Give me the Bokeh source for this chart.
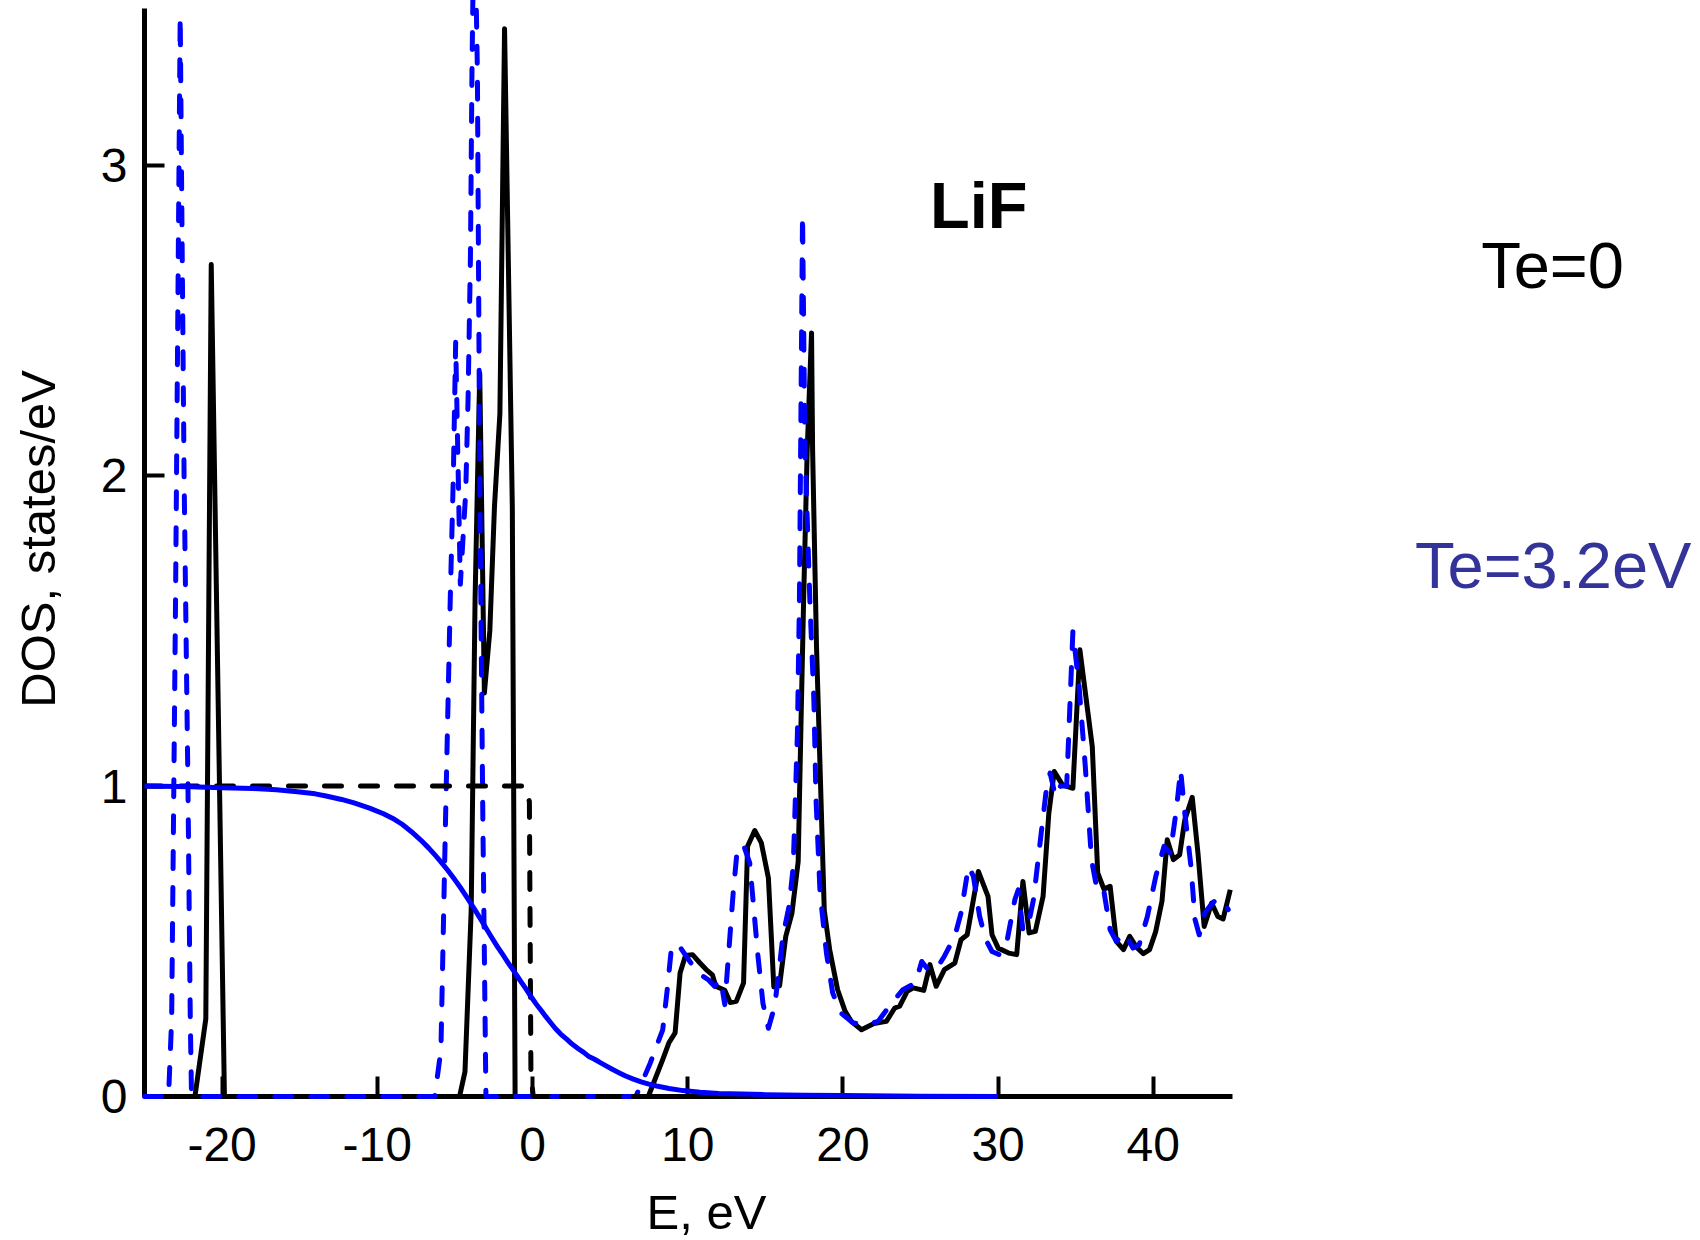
from bokeh.plotting import figure
from bokeh.models import Range1d, FixedTicker, Label, Title
from bokeh.embed import file_html
from bokeh.resources import INLINE

# ---------------- data ----------------
# DOS at Te = 0 (black solid)
e_dos0 = [-25, -21.75, -21.05, -20.7, -19.85, -4.7, -4.35, -3.95, -3.7, -3.4, -3.1, -2.75,
          -2.45, -2.1, -1.8, -1.3, -1.12, 7.46, 8.39, 8.79, 9.19, 9.51, 9.86, 10.31, 10.79,
          11.19, 11.59, 11.81, 12.39, 12.74, 13.14, 13.6, 13.86, 14.32, 14.74, 15.2, 15.55,
          15.92, 16.32, 16.72, 17.12, 17.3, 17.47, 17.7, 17.98, 18.05, 18.3, 18.8, 19.15,
          19.66, 20.14, 20.54, 21.2, 22.0, 22.8, 23.34, 23.66, 24.14, 24.54, 25.21, 25.61,
          26.01, 26.54, 27.21, 27.61, 28.01, 28.73, 29.35, 29.61, 30.01, 30.68, 31.2, 31.6,
          32.0, 32.4, 32.9, 33.27, 33.62, 34.15, 34.82, 35.27, 36.07, 36.42, 36.82, 37.22,
          37.62, 38.08, 38.48, 38.9, 39.36, 39.76, 40.16, 40.56, 40.9, 41.3, 41.7, 42.03,
          42.51, 42.88, 43.28, 43.76, 44.16, 44.5, 44.96]
dos0 = [0, 0, 0.25, 2.68, 0, 0, 0.08, 0.6, 1.6, 2.33, 1.30, 1.50,
        1.9, 2.2, 3.44, 1.9, 0, 0, 0.119, 0.173, 0.205, 0.398, 0.454, 0.457, 0.43,
        0.409, 0.392, 0.355, 0.342, 0.303, 0.307, 0.366, 0.806, 0.857, 0.818, 0.704, 0.353,
        0.357, 0.516, 0.591, 0.757, 1.2, 1.6, 2.08, 2.46, 2.08, 1.45, 0.6, 0.473,
        0.344, 0.275, 0.242, 0.215, 0.235, 0.242, 0.285, 0.291, 0.339, 0.35, 0.342, 0.425,
        0.355, 0.409, 0.43, 0.505, 0.521, 0.725, 0.645, 0.521, 0.478, 0.462, 0.457, 0.693,
        0.527, 0.532, 0.645, 0.913, 1.047, 1.004, 0.993, 1.439, 1.127, 0.72, 0.668, 0.677,
        0.5, 0.473, 0.516, 0.482, 0.46, 0.473, 0.532, 0.629, 0.827, 0.763, 0.779, 0.891,
        0.964, 0.784, 0.548, 0.623, 0.58, 0.572, 0.666]

# DOS at Te = 3.2 eV (blue dashed)
e_dos32 = [-25, -23.45, -23.25, -23.0, -22.7, -22.45, -22.2, -22.05, -21.97, -6.3, -5.9, -5.6,
           -5.3, -5.1, -4.95, -4.65, -4.3, -4.15, -4.0, -3.9, -3.75, -3.55, -3.4, -3.2, -3.0,
           6.66, 7.59, 8.39, 8.66, 8.92, 9.33, 9.99, 10.66, 11.33, 11.73, 12.13, 12.39, 12.93,
           13.2, 13.6, 14.0, 14.32, 14.53, 14.85, 15.2, 15.6, 15.92, 16.13, 16.53, 16.8, 17.07,
           17.2, 17.4, 17.55, 17.87, 18.13, 18.27, 18.53, 18.94, 19.34, 19.87, 20.67, 21.6,
           22.27, 23.07, 23.87, 24.68, 25.08, 25.48, 26.01, 26.54, 27.21, 27.61, 28.09, 28.41,
           28.81, 29.21, 29.61, 30.07, 30.55, 31.08, 31.3, 31.6, 31.88, 32.28, 32.68, 33.08,
           33.35, 33.7, 34.02, 34.42, 34.82, 35.22, 35.62, 36.02, 36.42, 36.82, 37.22, 37.62,
           38.16, 38.69, 39.09, 39.62, 40.16, 40.69, 41.09, 41.49, 41.76, 42.03, 42.43, 42.69,
           42.96, 43.31, 43.63, 44.03, 44.43, 44.83]
dos32 = [0, 0, 0.25, 1.6, 3.48, 2.0, 1.0, 0.25, 0, 0, 0.15, 0.9,
         1.6, 2.0, 2.43, 1.65, 1.95, 2.25, 2.7, 3.3, 3.9, 3.3, 2.0, 0.9, 0,
         0, 0.108, 0.215, 0.334, 0.462, 0.494, 0.446, 0.398, 0.376, 0.355, 0.376, 0.296, 0.655,
         0.80, 0.81, 0.752, 0.57, 0.452, 0.30, 0.22, 0.29, 0.42, 0.516, 0.612, 0.74, 1.17,
         1.6, 2.84, 2.1, 1.6, 1.278, 0.956, 0.655, 0.462, 0.334, 0.269, 0.237, 0.232,
         0.242, 0.296, 0.344, 0.366, 0.435, 0.409, 0.409, 0.452, 0.516, 0.591, 0.741, 0.709,
         0.58, 0.505, 0.467, 0.457, 0.494, 0.634, 0.666, 0.537, 0.537, 0.634, 0.806, 0.977,
         1.042, 0.967, 1.0, 1.0, 1.498, 1.321, 1.063, 0.763, 0.655, 0.661, 0.537, 0.50,
         0.527, 0.478, 0.489, 0.58, 0.709, 0.806, 0.784, 0.924, 1.052, 0.913, 0.741, 0.57,
         0.521, 0.591, 0.612, 0.634, 0.634, 0.602]

# Fermi occupation at Te = 0 (black dashed)
e_f0 = [-25, -0.45, -0.2, -0.1, 0.05, 45]
f0 = [1.0, 1.0, 0.95, 0.07, 0.0, 0.0]

# Fermi occupation at Te = 3.2 eV (blue solid)
e_f32 = [-25, -22, -20, -18, -16.5, -15, -14, -13.3, -12.3, -11.5, -10.5, -9.6, -8.9, -8.4,
         -7.8, -7.2, -6.7, -6.3, -5.9, -5.45, -5.0, -4.6, -4.15, -3.72, -3.3, -3.0, -2.6,
         -2.24, -1.9, -1.6, -1.3, -1.0, -0.7, -0.4, -0.1, 0.22, 0.55, 0.85, 1.15, 1.46, 1.8,
         2.2, 2.55, 2.95, 3.3, 3.6, 4.0, 4.37, 4.8, 5.2, 5.6, 6.0, 6.5, 7.0, 7.5, 8.0, 8.8,
         9.7, 10.8, 12.0, 13.5, 15.0, 17.5, 20.0, 25.0, 30.0]
f32 = [1.0, 0.998, 0.995, 0.992, 0.988, 0.981, 0.975, 0.968, 0.957, 0.946, 0.929, 0.911,
       0.893, 0.877, 0.853, 0.826, 0.801, 0.779, 0.756, 0.728, 0.698, 0.670, 0.636, 0.602,
       0.568, 0.543, 0.510, 0.481, 0.456, 0.433, 0.411, 0.389, 0.367, 0.345, 0.322, 0.299,
       0.278, 0.258, 0.239, 0.22, 0.202, 0.185, 0.169, 0.154, 0.142, 0.13, 0.12, 0.109,
       0.097, 0.086, 0.076, 0.066, 0.056, 0.047, 0.040, 0.034, 0.026, 0.019, 0.014, 0.010,
       0.008, 0.006, 0.004, 0.003, 0.001, 0.0]

x_ticks = [-20, -10, 0, 10, 20, 30, 40]
x_tick_text = {-20: "-20", -10: "-10", 0: "0", 10: "10", 20: "20", 30: "30", 40: "40"}
y_ticks = [0, 1, 2, 3]

title_text = "LiF"
label_t0 = "Te=0"
label_t32 = "Te=3.2eV"
x_label = "E, eV"
y_label = "DOS, states/eV"

FONT = "Liberation Sans"
BLUE = "#0000ff"

# ---------------- figure ----------------
p = figure(width=1700, height=1240,
           x_range=Range1d(-25, 75.26), y_range=Range1d(0, 3.505),
           output_backend="svg", toolbar_location=None,
           min_border_left=144, min_border_right=0, min_border_top=8, min_border_bottom=143)
p.outline_line_color = None
p.grid.visible = False
p.background_fill_color = "white"
p.border_fill_color = "white"

for ax in (p.xaxis[0], p.yaxis[0]):
    ax.axis_line_width = 5
    ax.axis_line_color = "black"
    ax.major_tick_line_width = 4
    ax.major_tick_line_color = "black"
    ax.major_tick_in = 20
    ax.major_tick_out = 0
    ax.minor_tick_line_color = None
    ax.major_label_text_font = FONT
    ax.major_label_text_font_size = "48px"
    ax.major_label_text_color = "black"

xa = p.xaxis[0]
xa.ticker = FixedTicker(ticks=x_ticks)
xa.major_label_overrides = x_tick_text
xa.bounds = (-25, 45.1)
xa.major_label_standoff = 31
# tiny blank axis label only used as spacing before the "E, eV" title
xa.axis_label = " "
xa.axis_label_text_font_size = "1px"
xa.axis_label_standoff = 17

ya = p.yaxis[0]
ya.ticker = FixedTicker(ticks=y_ticks)
ya.bounds = (0, 3.505)
ya.major_label_standoff = 17
ya.axis_label = "\u00a0\u00a0" + y_label
ya.axis_label_text_font = FONT
ya.axis_label_text_font_size = "49px"
ya.axis_label_text_font_style = "normal"
ya.axis_label_text_color = "black"
ya.axis_label_standoff = 33

r1 = p.line(e_dos0, dos0, line_color="black", line_width=5, line_join="round")
r2 = p.line(e_dos32, dos32, line_color=BLUE, line_width=5, line_dash="17 19",
            line_cap="round", line_join="round")
r3 = p.line(e_f0, f0, line_color="black", line_width=5, line_dash="17 19", line_cap="round")
r4 = p.line(e_f32, f32, line_color=BLUE, line_width=5, line_join="round")
for r in (r1, r2, r3, r4):
    r.level = "annotation"

p.add_layout(Label(x=28.75, y=2.871, text=title_text, text_font=FONT, text_font_size="65px",
                   text_font_style="bold", text_align="center", text_baseline="alphabetic",
                   text_color="black"))
p.add_layout(Label(x=65.73, y=2.677, text=label_t0, text_font=FONT, text_font_size="65px",
                   text_align="center", text_baseline="alphabetic", text_color="black"))
p.add_layout(Label(x=65.77, y=1.712, text=label_t32, text_font=FONT, text_font_size="65px",
                   text_align="center", text_baseline="alphabetic", text_color="#333399"))

p.add_layout(Title(text=x_label, text_font=FONT, text_font_size="49px",
                   text_font_style="normal", text_color="black",
                   align="left", offset=502, vertical_align="top", standoff=0), "below")

open("out.html", "w").write(file_html(p, INLINE))
